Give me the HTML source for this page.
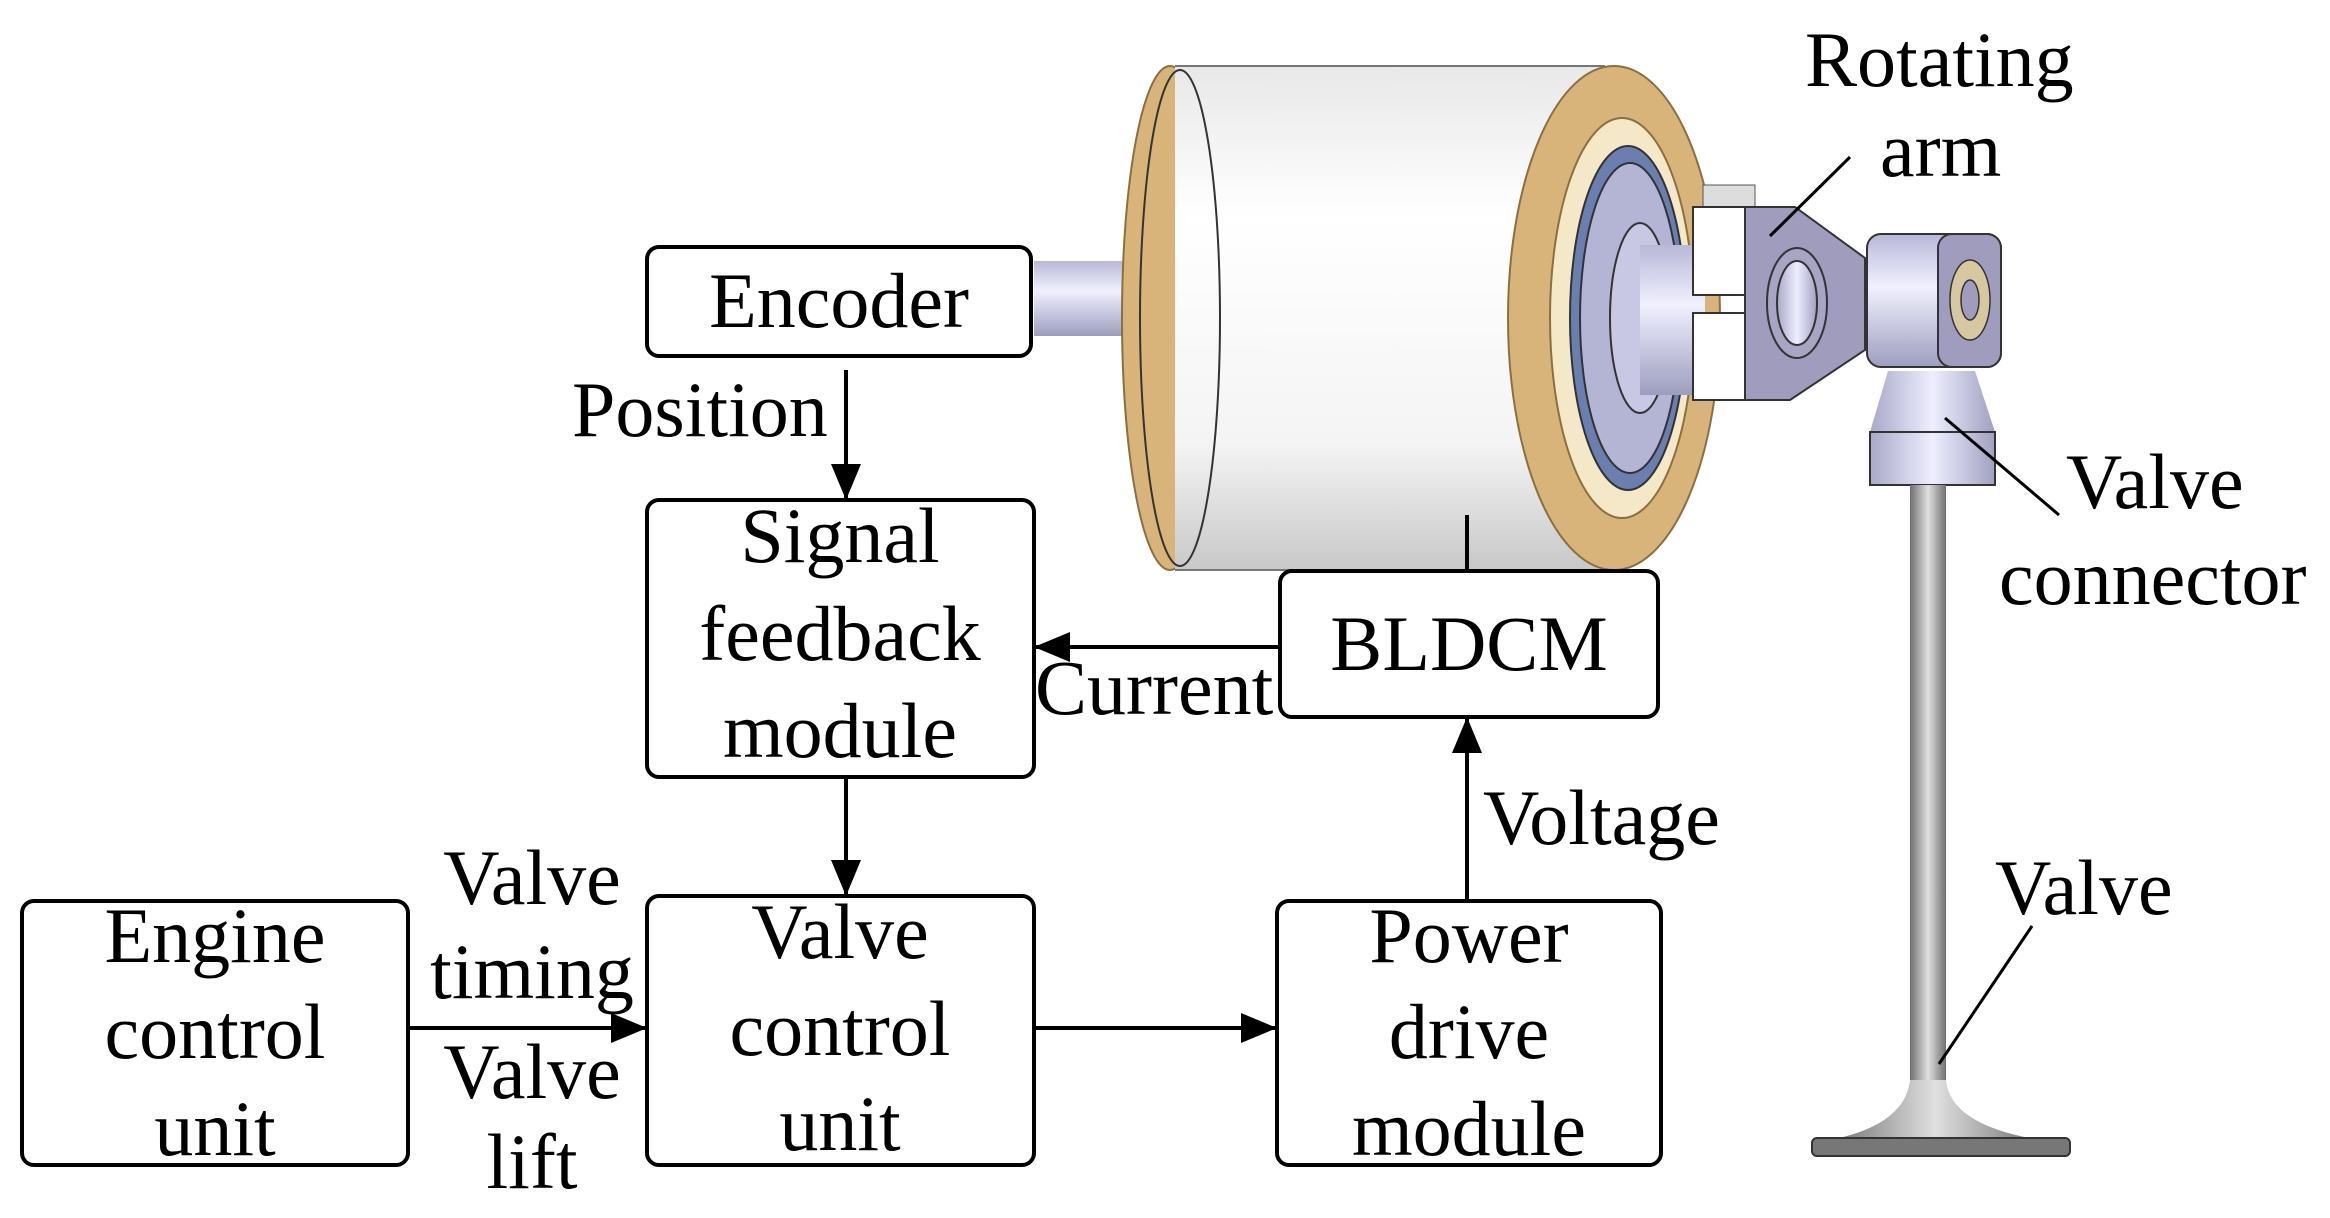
<!DOCTYPE html>
<html><head><meta charset="utf-8"><style>
html,body{margin:0;padding:0;background:#fff}
svg{display:block}
text{font-family:"Liberation Serif",serif;font-size:78px;fill:#000}
</style></head><body>
<svg width="2330" height="1218" viewBox="0 0 2330 1218" xmlns="http://www.w3.org/2000/svg">
<defs>
<linearGradient id="body" x1="0" y1="0" x2="0" y2="1">
<stop offset="0" stop-color="#e8e8e8"/><stop offset="0.3" stop-color="#ffffff"/><stop offset="0.75" stop-color="#f4f4f4"/><stop offset="1" stop-color="#c8c8c8"/></linearGradient>
<linearGradient id="lav" x1="0" y1="0" x2="0" y2="1">
<stop offset="0" stop-color="#b8b8d8"/><stop offset="0.4" stop-color="#f0f0ff"/><stop offset="1" stop-color="#9d9dc0"/></linearGradient>
<linearGradient id="lavh" x1="0" y1="0" x2="1" y2="0">
<stop offset="0" stop-color="#a8a8c8"/><stop offset="0.5" stop-color="#eeeeff"/><stop offset="1" stop-color="#a0a0c0"/></linearGradient>
<linearGradient id="stem" x1="0" y1="0" x2="1" y2="0">
<stop offset="0" stop-color="#707070"/><stop offset="0.5" stop-color="#e0e0e0"/><stop offset="1" stop-color="#707070"/></linearGradient>
<marker id="ah" markerWidth="36" markerHeight="30" refX="34" refY="15" orient="auto" markerUnits="userSpaceOnUse" viewBox="0 0 36 30">
<path d="M0,0 L36,15 L0,30 z" fill="#000"/></marker>
</defs>

<!-- motor -->
<rect x="1034" y="261" width="90" height="75" fill="url(#lav)"/>
<ellipse cx="1170" cy="318" rx="48" ry="252" fill="#d8b47a" stroke="#8a7040" stroke-width="2"/>
<rect x="1175" y="66" width="430" height="504" fill="url(#body)"/>
<line x1="1175" y1="66" x2="1605" y2="66" stroke="#777" stroke-width="2"/>
<line x1="1175" y1="570" x2="1605" y2="570" stroke="#777" stroke-width="2"/>
<ellipse cx="1180" cy="318" rx="40" ry="248" fill="none" stroke="#333" stroke-width="2"/>
<ellipse cx="1614" cy="318" rx="106" ry="252" fill="#d8b47a" stroke="#8a7040" stroke-width="2"/>
<ellipse cx="1622" cy="318" rx="72" ry="200" fill="#f5e8c8" stroke="#8a7040" stroke-width="2"/>
<ellipse cx="1628" cy="318" rx="58" ry="172" fill="#6a7fb0" stroke="#333" stroke-width="2"/>
<ellipse cx="1630" cy="318" rx="50" ry="155" fill="#b4b4d4" stroke="#333" stroke-width="2"/>
<ellipse cx="1640" cy="318" rx="30" ry="95" fill="#c8c8e4" stroke="#333" stroke-width="2"/>
<rect x="1640" y="245" width="65" height="150" fill="url(#lav)"/>
<!-- clamp & arm -->
<rect x="1703" y="185" width="52" height="22" fill="#ddd" stroke="#555" stroke-width="1"/>
<path d="M1745,207 L1795,207 L1865,258 L1865,350 L1790,400 L1745,400 Z" fill="#a09cbe" stroke="#333" stroke-width="2"/>
<ellipse cx="1797" cy="303" rx="30" ry="55" fill="#a8a4c4" stroke="#333" stroke-width="2"/>
<ellipse cx="1797" cy="303" rx="20" ry="42" fill="url(#lavh)" stroke="#333" stroke-width="2"/>
<rect x="1693" y="207" width="52" height="88" fill="#fff" stroke="#333" stroke-width="2"/>
<rect x="1693" y="313" width="52" height="87" fill="#fff" stroke="#333" stroke-width="2"/>
<!-- connector -->
<rect x="1867" y="234" width="134" height="133" rx="14" fill="url(#lav)" stroke="#333" stroke-width="2"/>
<rect x="1938" y="234" width="63" height="133" rx="14" fill="#a09cbe" stroke="#333" stroke-width="2"/>
<ellipse cx="1970" cy="300" rx="20" ry="40" fill="#d8c8a0" stroke="#333" stroke-width="1.5"/>
<ellipse cx="1970" cy="300" rx="9" ry="20" fill="#a09cbe" stroke="#333" stroke-width="1.5"/>
<path d="M1888,371 L1975,371 L1995,432 L1870,432 Z" fill="url(#lavh)"/>
<rect x="1870" y="432" width="125" height="53" fill="url(#lavh)" stroke="#333" stroke-width="2"/>
<!-- valve -->
<rect x="1910" y="485" width="36" height="600" fill="url(#stem)"/>
<path d="M1910,1080 Q1905,1125 1830,1140 L2040,1140 Q1950,1125 1946,1080 Z" fill="url(#stem)"/>
<rect x="1812" y="1138" width="258" height="18" rx="5" fill="#777" stroke="#333" stroke-width="2"/>

<!-- boxes -->
<g fill="#fff" stroke="#000" stroke-width="4">
<rect x="647" y="247" width="384" height="109" rx="12"/>
<rect x="647" y="500" width="387" height="277" rx="12"/>
<rect x="647" y="896" width="387" height="269" rx="12"/>
<rect x="22" y="901" width="386" height="264" rx="12"/>
<rect x="1277" y="901" width="384" height="264" rx="12"/>
<rect x="1280" y="571" width="378" height="146" rx="12"/>
</g>

<!-- connectors -->
<g stroke="#000" stroke-width="4" fill="none">
<line x1="846" y1="370" x2="846" y2="498" marker-end="url(#ah)"/>
<line x1="846" y1="777" x2="846" y2="894" marker-end="url(#ah)"/>
<line x1="1280" y1="647" x2="1036" y2="647" marker-end="url(#ah)"/>
<line x1="1467" y1="901" x2="1467" y2="719" marker-end="url(#ah)"/>
<line x1="1467" y1="571" x2="1467" y2="515"/>
<line x1="408" y1="1028" x2="645" y2="1028" marker-end="url(#ah)"/>
<line x1="1034" y1="1028" x2="1275" y2="1028" marker-end="url(#ah)"/>
<line x1="1850" y1="157" x2="1770" y2="236" stroke-width="3"/>
<line x1="1945" y1="418" x2="2059" y2="515" stroke-width="3"/>
<line x1="2032" y1="926" x2="1939" y2="1064" stroke-width="3"/>
</g>

<!-- box text -->
<g text-anchor="middle">
<text x="839" y="327">Encoder</text>
<text x="840" y="562">Signal</text>
<text x="840" y="660">feedback</text>
<text x="840" y="757">module</text>
<text x="840" y="958">Valve</text>
<text x="840" y="1055">control</text>
<text x="840" y="1150">unit</text>
<text x="215" y="962">Engine</text>
<text x="215" y="1058">control</text>
<text x="215" y="1155">unit</text>
<text x="1469" y="962">Power</text>
<text x="1469" y="1058">drive</text>
<text x="1469" y="1155">module</text>
<text x="1469" y="670">BLDCM</text>
<text x="532" y="904">Valve</text>
<text x="532" y="998">timing</text>
<text x="532" y="1098">Valve</text>
<text x="532" y="1188">lift</text>
</g>
<text x="572" y="436">Position</text>
<text x="1035" y="714">Current</text>
<text x="1483" y="844">Voltage</text>
<text x="1805" y="86">Rotating</text>
<text x="1880" y="176">arm</text>
<text x="2066" y="508">Valve</text>
<text x="1999" y="604">connector</text>
<text x="1995" y="914">Valve</text>
</svg>
</body></html>
